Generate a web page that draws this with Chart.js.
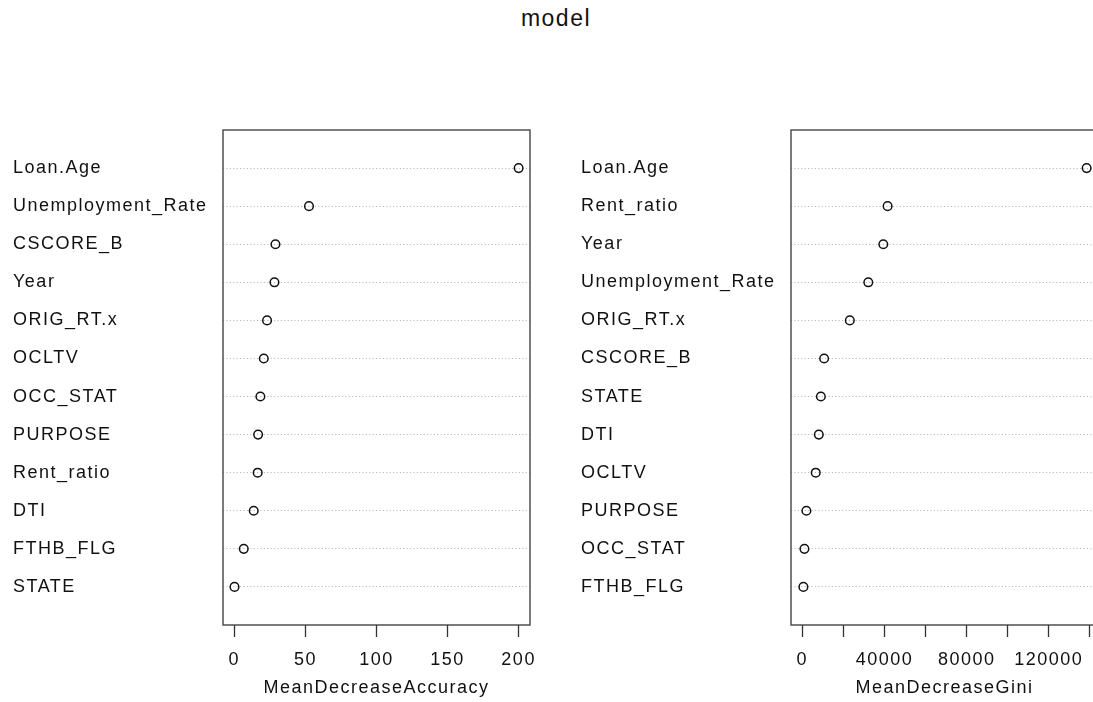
<!DOCTYPE html>
<html>
<head>
<meta charset="utf-8">
<script src="https://cdn.jsdelivr.net/npm/chart.js@4/dist/chart.umd.min.js"></script>
<style>
  html, body { margin: 0; padding: 0; background: #fff; overflow: hidden; width: 1093px; height: 702px; }
  #title { position: absolute; left: 0; top: 7px; width: 1093px; padding-left: 19px; box-sizing: border-box;
           text-align: center; font-family: "Liberation Sans", Arial, sans-serif; font-size: 23px;
           letter-spacing: 1.5px; line-height: 23px; color: #111; }
  canvas { position: absolute; top: 0; }
  #c1 { left: 0; }
  #c2 { left: 568px; }
</style>
</head>
<body>
<div id="title">model</div>
<canvas id="c1" width="568" height="702"></canvas>
<canvas id="c2" width="568" height="702"></canvas>
<script>
// ---- data ----
const accNames = ["Loan.Age", "Unemployment_Rate", "CSCORE_B", "Year", "ORIG_RT.x", "OCLTV",
                  "OCC_STAT", "PURPOSE", "Rent_ratio", "DTI", "FTHB_FLG", "STATE"];
const accValues = [200, 52.5, 28.9, 28.2, 23.0, 20.7, 18.3, 16.7, 16.4, 13.6, 6.6, 0.1];
const accTitle = "MeanDecreaseAccuracy";
const accStep = 50;
const accLabelEvery = 50;

const giniNames = ["Loan.Age", "Rent_ratio", "Year", "Unemployment_Rate", "ORIG_RT.x", "CSCORE_B",
                   "STATE", "DTI", "OCLTV", "PURPOSE", "OCC_STAT", "FTHB_FLG"];
const giniValues = [138400, 41500, 39400, 32100, 23100, 10600, 9000, 8000, 6500, 1950, 1000, 500];
const giniTitle = "MeanDecreaseGini";
const giniStep = 20000;
const giniLabelEvery = 40000;

// ---- rendering ----
const FONT = "'Liberation Sans', Arial, sans-serif";
const TXT = '#111';

const spacingPlugin = {
  id: 'spacing',
  beforeDraw(chart) { chart.ctx.letterSpacing = '1.5px'; }
};
const boxPlugin = {
  id: 'box',
  afterDraw(chart) {
    const a = chart.chartArea, ctx = chart.ctx;
    ctx.save();
    ctx.strokeStyle = '#444';
    ctx.lineWidth = 1.4;
    ctx.strokeRect(a.left, a.top, a.right - a.left, a.bottom - a.top);
    ctx.restore();
  }
};

function makeDot(id, names, values, title, step, labelEvery) {
  const lo = Math.min(0, ...values), hi = Math.max(...values);
  const ext = 0.04 * (hi - lo);
  const xmin = lo - ext, xmax = hi + ext;
  new Chart(document.getElementById(id), {
    type: 'scatter',
    data: {
      datasets: [{
        data: values.map((v, i) => ({ x: v, y: i + 1 })),
        pointStyle: 'circle',
        pointRadius: 4.3,
        pointHoverRadius: 4.3,
        pointBorderWidth: 1.5,
        borderColor: '#111',
        backgroundColor: 'rgba(0,0,0,0)',
        showLine: false
      }]
    },
    options: {
      responsive: false,
      animation: false,
      events: [],
      layout: { padding: { top: 130, left: 13, right: 38, bottom: 0 } },
      plugins: { legend: { display: false }, tooltip: { enabled: false }, title: { display: false } },
      scales: {
        x: {
          type: 'linear',
          position: 'bottom',
          min: xmin,
          max: xmax,
          afterFit(s) { s.height = 77; },
          afterBuildTicks(s) {
            const t = [];
            for (let v = Math.ceil(xmin / step) * step; v <= xmax + 1e-9; v += step) t.push({ value: v });
            s.ticks = t;
          },
          ticks: {
            autoSkip: false,
            maxRotation: 0,
            padding: 12,
            color: TXT,
            font: { family: FONT, size: 18 },
            callback: (v) => (Math.abs(v % labelEvery) < 1e-9 ? String(v) : '')
          },
          grid: {
            drawOnChartArea: false,
            drawTicks: true,
            tickLength: 12,
            tickColor: '#333',
            tickWidth: 1.3
          },
          border: { display: false },
          title: {
            display: true,
            text: title,
            color: TXT,
            font: { family: FONT, size: 18 },
            padding: { top: 0, bottom: 3 }
          }
        },
        y: {
          type: 'linear',
          reverse: true,
          min: 0,
          max: names.length + 1,
          afterFit(s) { s.width = 210; },
          afterBuildTicks(s) { s.ticks = names.map((_, i) => ({ value: i + 1 })); },
          ticks: {
            crossAlign: 'far',
            autoSkip: false,
            padding: 0,
            color: TXT,
            font: { family: FONT, size: 18 },
            callback: (v) => names[Math.round(v) - 1] || ''
          },
          grid: {
            drawOnChartArea: true,
            drawTicks: false,
            color: '#bbbbbb',
            lineWidth: 1
          },
          border: { display: false, dash: [1.2, 2.2] }
        }
      }
    },
    plugins: [spacingPlugin, boxPlugin]
  });
}

makeDot('c1', accNames, accValues, accTitle, accStep, accLabelEvery);
makeDot('c2', giniNames, giniValues, giniTitle, giniStep, giniLabelEvery);
</script>
</body>
</html>
